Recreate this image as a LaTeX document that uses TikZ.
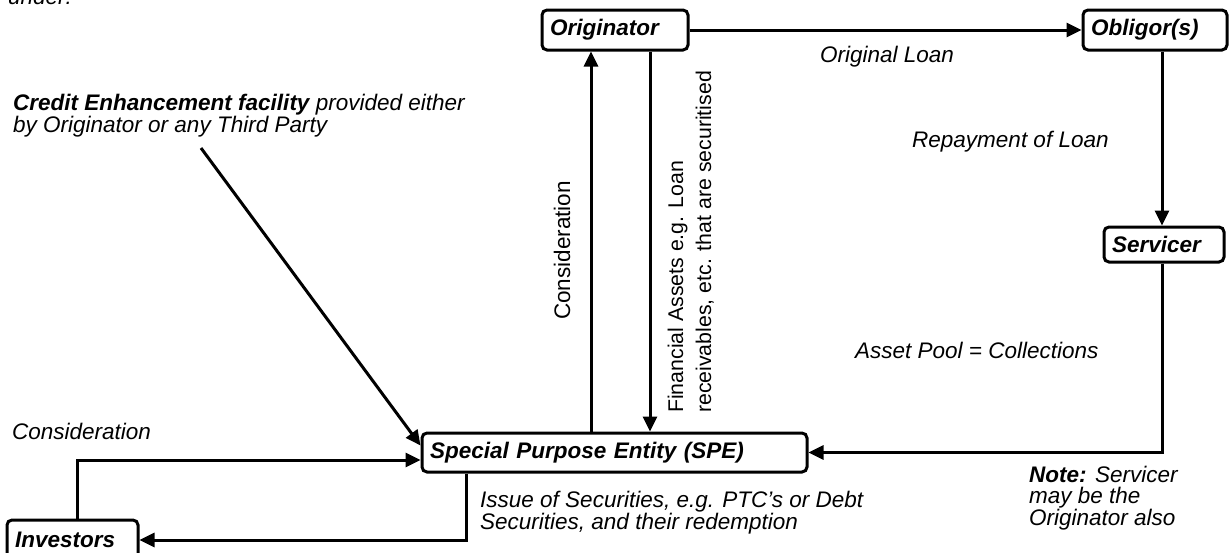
\documentclass[tikz,border=0pt]{standalone}
\usepackage{fontspec}
\setmainfont{Liberation Sans}
\usetikzlibrary{arrows.meta,calc}
\begin{document}
\begin{tikzpicture}[x=1pt,y=-1pt,
  party/.style={draw, line width=3pt, rounded corners=5pt, inner xsep=8pt, inner ysep=0pt,
    align=left, font=\fontsize{22.5}{21}\selectfont\bfseries\itshape},
  lbl/.style={inner sep=0pt, anchor=base west, align=left,
    font=\fontsize{22.5}{21.5}\selectfont\itshape},
  vlbl/.style={inner sep=0pt, anchor=base west, align=left, rotate=90},
  flow/.style={line width=3pt, -{Triangle[length=15pt,width=14pt]}},
]
% canvas
\fill[white] (0,0) rectangle (1230,552);
\useasboundingbox (0,0) rectangle (1230,552);

% parties
\node[party, text width=130pt, minimum height=40pt] (orig)  at (615,30)     {Originator};
\node[party, text width=128pt, minimum height=40pt] (oblig) at (1155,30)    {Obligor(s)};
\node[party, text width=104pt, minimum height=35pt] (serv)  at (1164,244.5) {Servicer};
\node[party, text width=369pt, minimum height=39pt] (spe)   at (614.5,452.5){Special Purpose Entity (SPE)};
\node[party, text width=115pt, minimum height=40pt] (inv)   at (72.5,540)   {Investors};

% labels (multi-line labels are placed by the baseline of their last line)
\node[lbl] (under)  at (8,4)     {under:};
\node[lbl, font=\fontsize{22.5}{22}\selectfont\itshape] (credit) at (13,132)
  {\textbf{Credit Enhancement facility} provided either\\by Originator or any Third Party};
\node[lbl] (loan)   at (820,62)  {Original Loan};
\node[lbl] (repay)  at (912,147) {Repayment of Loan};
\node[lbl] (pool)   at (855,358) {Asset Pool = Collections};
\node[lbl] (consl)  at (12,439)  {Consideration};
\node[lbl, font=\fontsize{22.5}{20}\selectfont\itshape] (issue) at (480,529)
  {Issue of Securities, e.g. PTC’s or Debt\\Securities, and their redemption};
\node[lbl] (note)   at (1029,525){\textbf{Note:} Servicer\\may be the\\Originator also};
\node[vlbl, font=\fontsize{22.5}{21}\selectfont] (consv) at (570,320) {Consideration};
\node[vlbl, font=\fontsize{21.3}{28}\selectfont] (fin) at (711,413)
  {Financial Assets e.g. Loan\\receivables, etc. that are securitised};

% routing points
\coordinate (rx) at (1162,0);
\coordinate (up) at (591,0);
\coordinate (dn) at (650,0);
\coordinate (ix) at (77,0);
\coordinate (sx) at (466,0);
\coordinate (ce) at (201,148);

% flows
\draw[flow] (orig.east) -- (oblig.west);
\draw[flow] (oblig.south -| rx) -- (serv.north -| rx);
\draw[flow] (serv.south -| rx) |- (spe.east);
\draw[flow] (spe.north -| up) -- (orig.south -| up);
\draw[flow] (orig.south -| dn) -- (spe.north -| dn);
\draw[flow] (ce) -- ($(spe.north west)+(0,14)$);
\draw[flow] (inv.north -| ix) |- ($(spe.west)+(0,7.5)$);
\draw[flow] (spe.south -| sx) |- (inv.east);
\end{tikzpicture}
\end{document}
